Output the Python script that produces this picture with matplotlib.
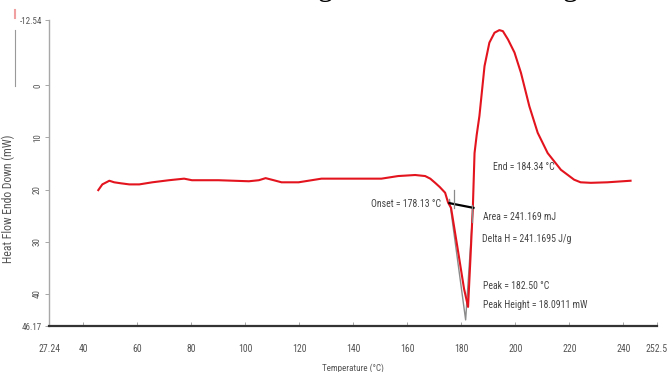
import matplotlib
matplotlib.use("Agg")
import matplotlib.pyplot as plt
from matplotlib import font_manager
from matplotlib.lines import Line2D

# ---------------- data ----------------
temperature = [45.5, 47.0, 49.6, 51.4, 54.0, 57.0, 60.7, 65.5, 71.7, 77.3, 80.2, 90.0,
               101.3, 105.0, 107.5, 110.5, 113.4, 119.7, 128.2, 138.2, 150.4, 156.6,
               162.9, 166.6, 168.5, 170.3, 172.0, 174.0, 175.1, 176.2, 178.6, 181.0,
               182.5, 183.4, 184.3, 184.9, 185.7, 186.7, 188.6, 190.4, 192.3, 194.1,
               195.4, 197.3, 199.7, 202.1, 205.2, 208.3, 212.0, 216.9, 221.8, 224.2,
               228.0, 234.1, 242.7]
heat_flow = [20.1, 19.0, 18.3, 18.6, 18.8, 19.0, 19.0, 18.6, 18.2, 17.9, 18.2, 18.2,
             18.4, 18.2, 17.8, 18.2, 18.6, 18.6, 17.9, 17.9, 17.9, 17.4,
             17.2, 17.4, 17.9, 18.7, 19.5, 20.6, 22.5, 23.5, 31.2, 39.0,
             42.5, 33.0, 23.0, 13.0, 9.5, 5.9, -3.7, -8.2, -10.1, -10.6,
             -10.4, -8.8, -6.3, -2.4, 4.0, 9.1, 13.0, 16.2, 18.1, 18.6,
             18.7, 18.6, 18.3]

# peak integration marks
outline_t = [175.6, 181.6, 184.3]
outline_v = [21.9, 45.0, 23.8]
baseline_t = [175.6, 184.5]
baseline_v = [22.6, 23.5]
limit_t = [177.3, 183.9]
limit_v_top = [20.0, 22.9]
limit_v_bot = [23.5, 26.2]

xticks = [27.24, 40, 60, 80, 100, 120, 140, 160, 180, 200, 220, 240, 252.5]
xticklabels = ["27.24", "40", "60", "80", "100", "120", "140", "160", "180",
               "200", "220", "240", "252.5"]
yticks = [-12.54, 0, 10, 20, 30, 40, 46.17]
yticklabels = ["-12.54", "0", "10", "20", "30", "40", "46.17"]

annotations = [
    ("Onset = 178.13 °C", 172.3, 22.8, "right"),
    ("End = 184.34 °C", 191.7, 15.6, "left"),
    ("Area = 241.169 mJ", 188.0, 25.3, "left"),
    ("Delta H = 241.1695 J/g", 187.6, 29.5, "left"),
    ("Peak = 182.50 °C", 188.0, 38.5, "left"),
    ("Peak Height = 18.0911 mW", 188.0, 42.1, "left"),
]

# ---------------- fonts ----------------
def pick(fams):
    for f in fams:
        try:
            font_manager.findfont(f, fallback_to_default=False)
            return f
        except Exception:
            pass
    return "DejaVu Sans"

narrow = pick(["Liberation Sans Narrow", "Roboto Condensed", "Liberation Sans"])
serif = pick(["Liberation Serif", "DejaVu Serif"])

# ---------------- figure ----------------
fig = plt.figure(figsize=(6.67, 3.72), dpi=100)
ax = fig.add_axes([49 / 667, 46 / 372, (657 - 49) / 667, (326 - 20) / 372])

red = "#e3141e"
ax.plot(outline_t, outline_v, color="#8a8a8a", lw=1.0, zorder=2)
ax.plot(temperature, heat_flow, color=red, lw=1.5, zorder=3, solid_joinstyle="round")
ax.plot(baseline_t, baseline_v, color="black", lw=1.6, zorder=4)
for t, a, b in zip(limit_t, limit_v_top, limit_v_bot):
    ax.plot([t, t], [a, b], color="#8a8a8a", lw=0.9, zorder=4)

ax.set_xlim(xticks[0], xticks[-1])
ax.set_ylim(yticks[-1], yticks[0])

ax.set_xticks(xticks)
ax.set_xticklabels(xticklabels, fontfamily=narrow, fontsize=7, color="#555555")
ax.set_yticks(yticks)
ax.set_yticklabels(yticklabels, fontfamily=narrow, fontsize=6.5, color="#555555")
for lab in ax.get_yticklabels()[1:-1]:
    lab.set_rotation(90)
    lab.set_va("center")
ax.tick_params(axis="x", direction="in", length=3, width=0.6, color="#999999", pad=13)
ax.tick_params(axis="y", direction="out", length=3, width=0.6, color="#999999", pad=2)

for s in ["top", "right"]:
    ax.spines[s].set_visible(False)
ax.spines["left"].set_color("#a8a8a8")
ax.spines["left"].set_linewidth(1.0)
ax.spines["bottom"].set_color("#333333")
ax.spines["bottom"].set_linewidth(1.6)

ax.set_xlabel("Temperature (°C)", fontfamily=narrow, fontsize=6.5, color="#555555", labelpad=7)
ax.set_ylabel("Heat Flow Endo Down (mW)", fontfamily=narrow, fontsize=8.5, color="#555555")
ax.yaxis.set_label_coords(-0.056, 0.415)

for txt, x, y, ha in annotations:
    ax.text(x, y, txt, ha=ha, va="center", fontfamily=narrow, fontsize=7, color="#444444")

# legend-like line next to the y label
fig.add_artist(Line2D([15 / 667, 15 / 667], [1 - 86 / 372, 1 - 30 / 372], color="#999999", lw=0.8))
fig.add_artist(Line2D([15 / 667, 15 / 667], [1 - 18 / 372, 1 - 10 / 372], color="#f0a0a0", lw=1.5))

# cut-off caption descenders at the top edge
for xp in [325, 570]:
    fig.text(xp / 667, 1.013, "g", fontfamily=serif, fontsize=22, ha="center", va="baseline", color="black")

fig.savefig("out.png", dpi=100)
